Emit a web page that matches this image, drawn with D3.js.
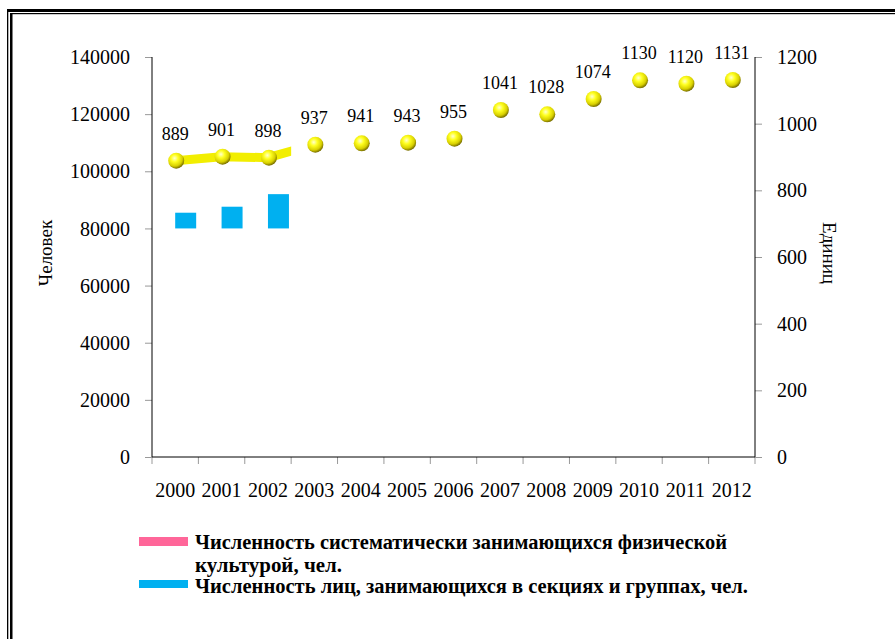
<!DOCTYPE html>
<html><head><meta charset="utf-8">
<script src="https://cdn.jsdelivr.net/npm/d3@7"></script>
<style>body{margin:0;background:#fff;}</style>
</head>
<body>
<svg id="c" width="895" height="639"></svg>
<script>
const years = ["2000","2001","2002","2003","2004","2005","2006","2007","2008","2009","2010","2011","2012"];
const units = [889,901,898,937,941,943,955,1041,1028,1074,1130,1120,1131];
const sportSystematic = [null,null,null,null,null,null,null,null,null,null,null,null,null];
const sectionMembers = [85500,87600,92000,null,null,null,null,null,null,null,null,null,null];
const sectionBase = 80000;
const leftTicks = [0,20000,40000,60000,80000,100000,120000,140000];
const rightTicks = [0,200,400,600,800,1000,1200];
const lineShownUntil = 2.5; // yellow line drawn up to halfway between 2002 and 2003
const legendLines = ["Численность систематически занимающихся физической","культурой, чел.","Численность лиц, занимающихся в секциях и группах, чел."];

const FONT = '"Liberation Serif","Times New Roman",serif';
const svg = d3.select("#c");
const L=152,R=755,T=57,B=457;
const x = d3.scaleBand().domain(years).range([L,R]).padding(0);
const yL = d3.scaleLinear().domain([0,140000]).range([B,T]);
const yR = d3.scaleLinear().domain([0,1200]).range([B,T]);
const inner = d3.scaleBand().domain(["a","b"]).range([0,x.bandwidth()]).paddingInner(0).paddingOuter(0.105);
const cx = d => x(d)+x.bandwidth()/2;

// frame
svg.append("rect").attr("x",7).attr("y",9).attr("width",900).attr("height",3).attr("fill","#000");
svg.append("rect").attr("x",10).attr("y",13).attr("width",900).attr("height",1.2).attr("fill","#000");
svg.append("rect").attr("x",7).attr("y",9).attr("width",1.3).attr("height",640).attr("fill","#000");
svg.append("rect").attr("x",10).attr("y",13).attr("width",2.5).attr("height",640).attr("fill","#000");

const defs = svg.append("defs");
const g = defs.append("radialGradient").attr("id","ball").attr("cx","40%").attr("cy","35%").attr("r","65%");
g.append("stop").attr("offset","0%").attr("stop-color","#ffffd0");
g.append("stop").attr("offset","35%").attr("stop-color","#ffff20");
g.append("stop").attr("offset","75%").attr("stop-color","#d8d000");
g.append("stop").attr("offset","100%").attr("stop-color","#7a7000");
defs.append("clipPath").attr("id","lineclip").append("rect")
  .attr("x",0).attr("y",0).attr("height",639)
  .attr("width", cx(years[Math.floor(lineShownUntil)]) + (lineShownUntil%1)*x.step());

// bars
svg.append("g").selectAll("rect").data(years.map((y,i)=>({y,v:sportSystematic[i]})).filter(d=>d.v!=null))
  .join("rect").attr("x",d=>x(d.y)+inner("a")).attr("width",inner.bandwidth())
  .attr("y",d=>yL(d.v)).attr("height",d=>yL(sectionBase)-yL(d.v)).attr("fill","#ff6699");
svg.append("g").selectAll("rect").data(years.map((y,i)=>({y,v:sectionMembers[i]})).filter(d=>d.v!=null))
  .join("rect").attr("x",d=>x(d.y)+inner("b")).attr("width",inner.bandwidth())
  .attr("y",d=>yL(d.v)).attr("height",d=>yL(sectionBase)-yL(d.v)).attr("fill","#00b0f0");

// axes
const gl = svg.append("g").attr("transform",`translate(${L},0)`).call(d3.axisLeft(yL).tickValues(leftTicks).tickSize(7).tickPadding(15).tickFormat(d3.format("d")));
const gr = svg.append("g").attr("transform",`translate(${R},0)`).call(d3.axisRight(yR).tickValues(rightTicks).tickSize(7).tickPadding(15).tickFormat(d3.format("d")));
const gb = svg.append("g").attr("transform",`translate(0,${B})`).call(d3.axisBottom(x).tickSize(0));
svg.append("g").selectAll("line").data(years.concat(["end"])).join("line")
  .attr("x1",(d,i)=>L+i*x.step()).attr("x2",(d,i)=>L+i*x.step())
  .attr("y1",B).attr("y2",B+7).attr("stroke","#999").attr("stroke-width",1);
[gl,gr,gb].forEach(a=>{
  a.select(".domain").remove();
  a.selectAll(".tick line").attr("stroke","#999");
  a.selectAll("text").attr("font-size",20).attr("fill","#000").style("font-family",FONT);
});
gl.selectAll("text").attr("dy","0.33em");
gr.selectAll("text").attr("dy","0.33em");
gb.selectAll("text").attr("y",40).attr("dy",0);
svg.append("line").attr("x1",L).attr("x2",L).attr("y1",T).attr("y2",B).attr("stroke","#000");
svg.append("line").attr("x1",R).attr("x2",R).attr("y1",T).attr("y2",B).attr("stroke","#000");
svg.append("line").attr("x1",L).attr("x2",R).attr("y1",B).attr("y2",B).attr("stroke","#000");

// axis titles
svg.append("text").attr("transform",`translate(52,253) rotate(-90)`).attr("text-anchor","middle")
  .attr("font-size",19).style("font-family",FONT).text("Человек");
svg.append("text").attr("transform",`translate(823,253) rotate(90)`).attr("text-anchor","middle")
  .attr("font-size",19).style("font-family",FONT).text("Единиц");

// yellow line
const ln = d3.line().x((d,i)=>cx(years[i])).y(d=>yR(d));
svg.append("path").attr("d",ln(units)).attr("fill","none").attr("stroke","#f2ee00")
  .attr("stroke-width",9).attr("clip-path","url(#lineclip)");

// balls
svg.append("g").selectAll("circle").data(units).join("circle")
  .attr("cx",(d,i)=>cx(years[i])+1).attr("cy",d=>yR(d)).attr("r",8).attr("fill","url(#ball)");
// labels
svg.append("g").selectAll("text").data(units).join("text")
  .attr("x",(d,i)=>cx(years[i])).attr("y",d=>yR(d)-21).attr("text-anchor","middle")
  .attr("font-size",18).style("font-family",FONT).text(d=>d);

// legend
const lg = svg.append("g");
lg.append("rect").attr("x",139).attr("y",537).attr("width",49).attr("height",9).attr("fill","#ff6699");
lg.append("rect").attr("x",139).attr("y",580).attr("width",49).attr("height",8).attr("fill","#00b0f0");
const legY = [549,572,593], legW = [532,147,553];
lg.selectAll("text").data(legendLines).join("text")
  .attr("x",195).attr("y",(d,i)=>legY[i]).attr("font-size",20).attr("font-weight","bold")
  .style("font-family",FONT)
  .attr("textLength",(d,i)=>legW[i]).attr("lengthAdjust","spacingAndGlyphs").text(d=>d);
</script>
</body></html>
